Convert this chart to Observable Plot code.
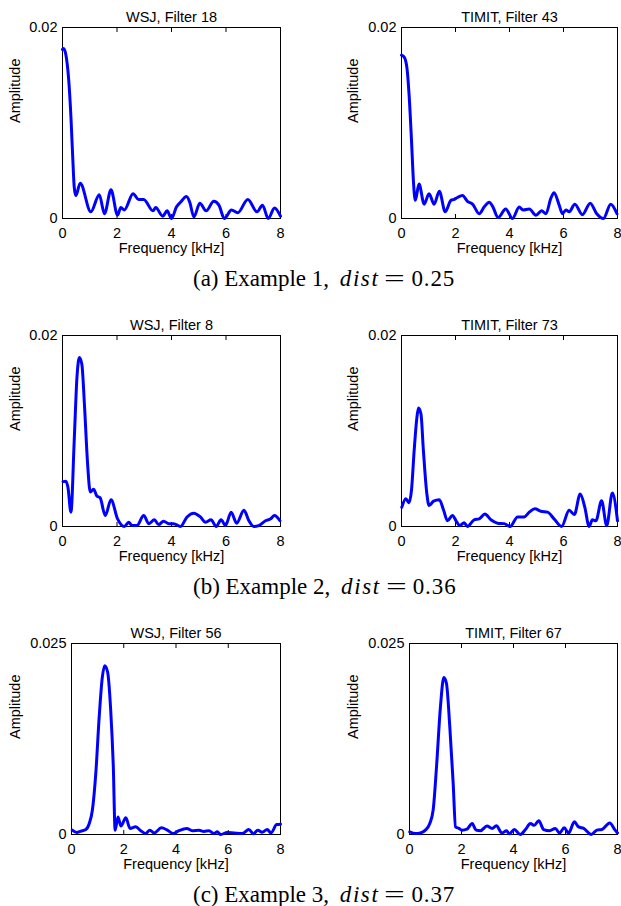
<!DOCTYPE html>
<html>
<head>
<meta charset="utf-8">
<script src="https://cdn.jsdelivr.net/npm/d3@7"></script>
<script src="https://cdn.jsdelivr.net/npm/@observablehq/plot@0.6"></script>
<style>
  html, body { margin: 0; padding: 0; background: #fff; }
  #fig { position: relative; width: 621px; height: 906px; overflow: hidden; background: #fff; }
  .panel { position: absolute; }
  .cap { position: absolute; font-family: "Liberation Serif", "Times New Roman", serif; font-size: 23px; line-height: 23px; white-space: nowrap; color: #000; }
  .cap i { font-style: italic; letter-spacing: 1.6px; margin-left: 5px; }
  .cap .eq { display: inline-block; transform: scaleX(1.6); margin: 0 10px 0 9px; }
  .cap .num { letter-spacing: 0.9px; }
</style>
</head>
<body>
<div id="fig"></div>
<script>
// ---------- data ----------
const xTicks = [0, 2, 4, 6, 8];
const xLabel = "Frequency [kHz]";
const yLabel = "Amplitude";

const panelTitles = ["WSJ, Filter 18", "TIMIT, Filter 43", "WSJ, Filter 8", "TIMIT, Filter 73", "WSJ, Filter 56", "TIMIT, Filter 67"];
const yMaxes = [0.02, 0.02, 0.02, 0.02, 0.025, 0.025];
const captionLabels = ["(a) Example 1,", "(b) Example 2,", "(c) Example 3,"];
const captionVar = "dist";
const captionDist = ["0.25", "0.36", "0.37"];

const wsj18Freq = [0, 0.04, 0.12, 0.22, 0.31, 0.38, 0.43, 0.49, 0.65, 1.04, 1.35, 1.54, 1.78, 2.02, 2.14, 2.27, 2.59, 2.79, 2.98, 3.32, 3.42, 3.68, 3.84, 4.0, 4.18, 4.33, 4.55, 4.67, 4.82, 5.04, 5.27, 5.55, 5.74, 5.94, 6.2, 6.43, 6.8, 7.14, 7.34, 7.55, 7.78, 8.0];
const wsj18Amp  = [0.0177, 0.0178, 0.0172, 0.0148, 0.0106, 0.0061, 0.0033, 0.0024, 0.0037, 0.0007, 0.0025, 0.0005, 0.003, 0.00035, 0.00115, 0.0009, 0.0026, 0.002, 0.002, 0.0008, 0.00115, 0.00024, 0.0008, 0, 0.0012, 0.0017, 0.0023, 0.0017, 0.00017, 0.0016, 0.0008, 0.0018, 0.0014, 0, 0.0009, 0.0006, 0.002, 0.0007, 0.0014, 0, 0.0011, 0.00024];

const timit43Freq = [0, 0.1, 0.2, 0.28, 0.37, 0.44, 0.51, 0.65, 0.84, 1.02, 1.21, 1.40, 1.62, 1.83, 1.95, 2.07, 2.26, 2.44, 2.63, 2.88, 3.06, 3.25, 3.37, 3.58, 3.86, 4.11, 4.36, 4.5, 4.73, 4.98, 5.19, 5.35, 5.53, 5.65, 5.84, 5.96, 6.09, 6.21, 6.42, 6.7, 6.99, 7.23, 7.48, 7.75, 7.98];
const timit43Amp  = [0.0171, 0.0169, 0.0158, 0.013, 0.0082, 0.004, 0.0019, 0.0036, 0.0015, 0.0026, 0.0015, 0.00285, 0.0007, 0.0019, 0.002, 0.0022, 0.0024, 0.0018, 0.0015, 0.0005, 0.0012, 0.0017, 0.0013, 0.0001, 0.001, 0, 0.0012, 0.0009, 0.001, 0.00035, 0.0008, 0.0005, 0.0021, 0.0027, 0.0014, 0.0005, 0.0009, 0.0007, 0.0015, 0.0004, 0.0016, 0.0005, 0, 0.0015, 0.0005];

const wsj8Freq = [0.02, 0.12, 0.2, 0.31, 0.43, 0.53, 0.62, 0.71, 0.81, 0.92, 1.02, 1.14, 1.26, 1.38, 1.57, 1.78, 2.02, 2.27, 2.43, 2.55, 2.73, 2.98, 3.17, 3.37, 3.53, 3.71, 3.9, 4.08, 4.33, 4.57, 4.82, 5.06, 5.25, 5.45, 5.64, 5.82, 5.98, 6.19, 6.39, 6.66, 6.84, 7.02, 7.2, 7.45, 7.64, 7.78, 7.98];
const wsj8Amp  = [0.0047, 0.00475, 0.0041, 0.0015, 0.009, 0.0156, 0.0177, 0.017, 0.0125, 0.0066, 0.0036, 0.0039, 0.0032, 0.003, 0.00115, 0.0028, 0.0008, 0, 0.00045, 0.0001, 0.0001, 0.00115, 0.0003, 0.0007, 0.0002, 0.00056, 0.0003, 0.0003, 0, 0.001, 0.0014, 0.001, 0.00045, 0.0007, 0, 0.0007, 0.0001, 0.0015, 0.00035, 0.0017, 0.0006, 0, 0.0001, 0.0006, 0.0008, 0.00115, 0.0006];

const timit73Freq = [0.01, 0.16, 0.28, 0.37, 0.47, 0.57, 0.63, 0.72, 0.81, 0.94, 1.02, 1.19, 1.4, 1.56, 1.7, 1.89, 2.02, 2.16, 2.32, 2.44, 2.69, 2.88, 3.09, 3.31, 3.56, 3.8, 4.02, 4.3, 4.54, 4.73, 4.94, 5.16, 5.41, 5.65, 5.93, 6.21, 6.4, 6.62, 6.79, 6.95, 7.07, 7.2, 7.41, 7.6, 7.81, 8.0];
const timit73Amp  = [0.002, 0.0029, 0.0025, 0.0038, 0.008, 0.0114, 0.0124, 0.0118, 0.008, 0.0034, 0.0022, 0.00265, 0.0028, 0.0017, 0.0006, 0.00115, 0.0006, 0.0001, 0.0004, 0, 0.0007, 0.0008, 0.0013, 0.0007, 0.00035, 0.0003, 0, 0.001, 0.001, 0.0015, 0.00185, 0.0016, 0.0015, 0.0008, 0, 0.0017, 0.00126, 0.0034, 0.002, 0, 0.0007, 0.0006, 0.0027, 0.0001, 0.0035, 0.0006];

const wsj56Freq = [0.03, 0.2, 0.36, 0.55, 0.68, 0.8, 0.93, 1.06, 1.18, 1.27, 1.38, 1.5, 1.6, 1.67, 1.78, 1.89, 2.08, 2.24, 2.46, 2.65, 2.84, 3.0, 3.16, 3.44, 3.67, 3.89, 4.11, 4.41, 4.62, 4.88, 5.07, 5.26, 5.45, 5.58, 5.71, 5.96, 6.22, 6.53, 6.79, 6.96, 7.13, 7.3, 7.49, 7.64, 7.85, 8.0];
const wsj56Amp  = [0.00057, 0.00026, 0.00044, 0.00065, 0.00144, 0.0032, 0.008, 0.0154, 0.0206, 0.0221, 0.0213, 0.0163, 0.0089, 0.00057, 0.0023, 0.0011, 0.0022, 0.0008, 0.001, 0.0005, 0.00013, 0.00057, 0.0002, 0.00087, 0.00057, 0.00013, 0.0005, 0.0008, 0.0005, 0.00057, 0.0004, 0.0005, 0.00013, 0.00035, 0, 0.00026, 0.0002, 0.00013, 0.00065, 0.0001, 0.00057, 0.0003, 0.00065, 0.0002, 0.0013, 0.00135];

const timit67Freq = [0.01, 0.23, 0.42, 0.61, 0.78, 0.91, 1.04, 1.19, 1.32, 1.42, 1.55, 1.68, 1.77, 1.9, 2.02, 2.21, 2.41, 2.56, 2.73, 2.98, 3.18, 3.34, 3.56, 3.73, 3.84, 4.03, 4.26, 4.46, 4.65, 4.8, 4.97, 5.16, 5.39, 5.61, 5.77, 5.95, 6.12, 6.34, 6.5, 6.7, 6.99, 7.21, 7.4, 7.7, 7.91, 8.0];
const timit67Amp  = [0.00035, 0.00013, 0.0002, 0.00057, 0.00144, 0.0032, 0.0089, 0.0167, 0.02055, 0.0198, 0.0141, 0.0067, 0.001, 0.0008, 0.00057, 0.0007, 0.00144, 0.00057, 0.0005, 0.0011, 0.0008, 0.00113, 0.0002, 0.0005, 0.0001, 0.00065, 0, 0.00065, 0.00144, 0.0012, 0.0018, 0.00065, 0.0005, 0.0008, 0.0002, 0.00087, 0.0002, 0.00166, 0.001, 0.0008, 0, 0.00057, 0.00065, 0.0015, 0.00057, 0.0002];

const seriesFreq = [wsj18Freq, timit43Freq, wsj8Freq, timit73Freq, wsj56Freq, timit67Freq];
const seriesAmp  = [wsj18Amp, timit43Amp, wsj8Amp, timit73Amp, wsj56Amp, timit67Amp];

// ---------- layout (pixel placement of each panel) ----------
const layout = [
  {left: 0,   top: 0,   width: 310, height: 290, mL: 62, mR: 30, mT: 27, mB: 72, yLabelX: 15},
  {left: 310, top: 0,   width: 311, height: 290, mL: 91, mR: 4,  mT: 27, mB: 72, yLabelX: 43},
  {left: 0,   top: 290, width: 310, height: 310, mL: 62, mR: 30, mT: 45, mB: 74, yLabelX: 15},
  {left: 310, top: 290, width: 311, height: 310, mL: 91, mR: 4,  mT: 45, mB: 74, yLabelX: 43},
  {left: 0,   top: 600, width: 310, height: 306, mL: 71, mR: 30, mT: 43, mB: 72, yLabelX: 15},
  {left: 310, top: 600, width: 311, height: 306, mL: 99, mR: 4,  mT: 43, mB: 72, yLabelX: 43}
];
const captionTops = [267, 575, 883];
const captionLeft = 193;

const FONT = "'Liberation Sans', Arial, Helvetica, sans-serif";
const FS = 14.5;
const BLUE = "#0000ff";

const fig = document.getElementById("fig");

layout.forEach((L, i) => {
  const data = seriesFreq[i].map((f, j) => ({f, a: seriesAmp[i][j]}));
  const yMax = yMaxes[i];
  const chart = Plot.plot({
    width: L.width,
    height: L.height,
    marginLeft: L.mL,
    marginRight: L.mR,
    marginTop: L.mT,
    marginBottom: L.mB,
    style: {fontFamily: FONT, fontSize: FS + "px", color: "#000", background: "transparent", overflow: "visible"},
    x: {domain: [0, 8], label: null},
    y: {domain: [0, yMax], label: null},
    marks: [
      Plot.axisX({anchor: "bottom", ticks: xTicks, tickSize: -4, tickPadding: 13, tickFormat: d => String(d), fontSize: FS, label: null}),
      Plot.axisX({anchor: "top", ticks: xTicks, tickSize: -4, tickFormat: () => "", label: null}),
      Plot.axisY({anchor: "left", ticks: [0, yMax], tickSize: 0, tickPadding: 5, tickFormat: d => String(d), fontSize: FS, label: null}),
      Plot.frame({stroke: "#000", strokeWidth: 1}),
      Plot.line(data, {x: "f", y: "a", stroke: BLUE, strokeWidth: 3, curve: "monotone-x", strokeLinejoin: "round"}),
      Plot.text([panelTitles[i]], {frameAnchor: "top", dy: -16, fontSize: FS, fill: "#000"}),
      Plot.text([xLabel], {frameAnchor: "bottom", dy: 34, fontSize: FS, fill: "#000"}),
      Plot.text([yLabel], {frameAnchor: "left", dx: L.yLabelX - L.mL, rotate: -90, fontSize: FS, fill: "#000"})
    ]
  });
  chart.classList.add("panel");
  chart.style.left = L.left + "px";
  chart.style.top = L.top + "px";
  chart.style.position = "absolute";
  fig.appendChild(chart);
});

captionLabels.forEach((c, k) => {
  const div = document.createElement("div");
  div.className = "cap";
  div.style.left = captionLeft + "px";
  div.style.top = captionTops[k] + "px";
  div.innerHTML = c + " <i>" + captionVar + "</i><span class=\"eq\">=</span><span class=\"num\">" + captionDist[k] + "</span>";
  fig.appendChild(div);
});
</script>
</body>
</html>
